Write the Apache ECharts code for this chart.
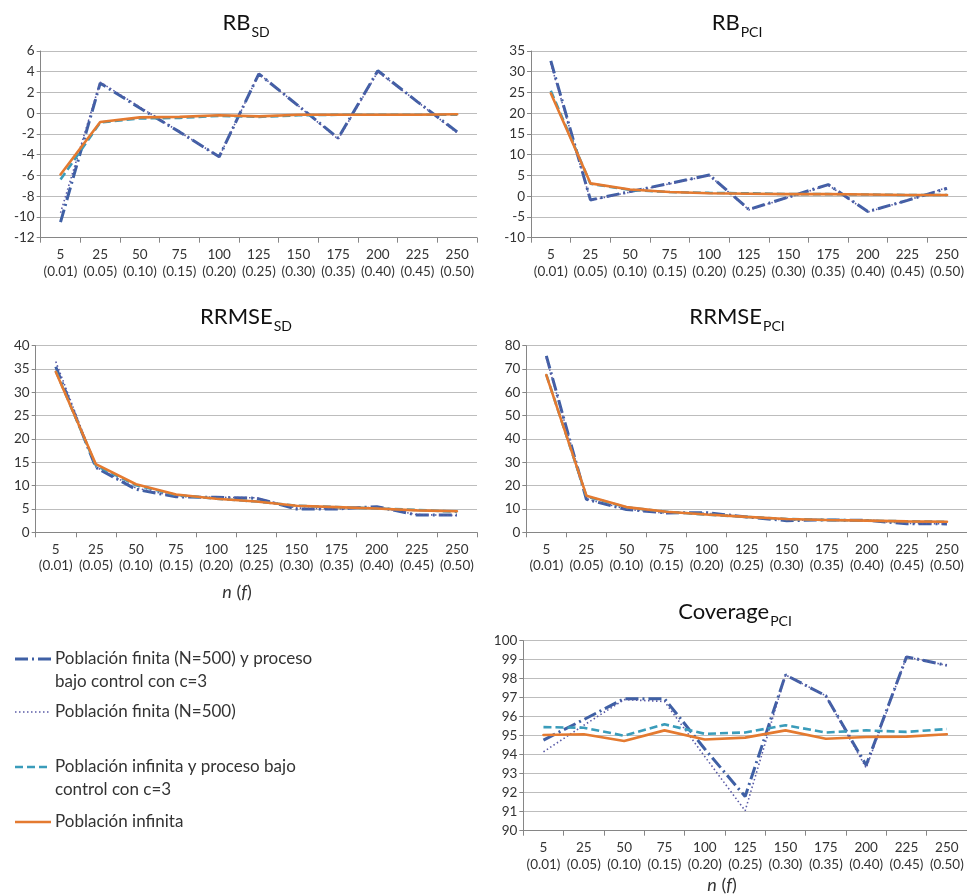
<!DOCTYPE html>
<html>
<head>
<meta charset="utf-8">
<script src="https://cdn.jsdelivr.net/npm/echarts@6/dist/echarts.min.js"></script>
<style>
  html, body { margin: 0; padding: 0; background: #fff; }
  #chart { width: 967px; height: 894px; }
</style>
</head>
<body>
<div id="chart"></div>
<script>
// Sample size n with sampling fraction f in brackets
const categories = ['5\n(0.01)', '25\n(0.05)', '50\n(0.10)', '75\n(0.15)', '100\n(0.20)', '125\n(0.25)',
  '150\n(0.30)', '175\n(0.35)', '200\n(0.40)', '225\n(0.45)', '250\n(0.50)'];

const seriesNames = [
  'Población finita (N=500) y proceso\nbajo control con c=3',
  'Población finita (N=500)',
  'Población infinita y proceso bajo\ncontrol con c=3',
  'Población infinita'
];

// RB_SD
const rbSdFiniteCtrl = [-10.5, 2.9, 0.5, -1.8, -4.2, 3.8, 0.7, -2.4, 4.1, 1.1, -1.8];
const rbSdFinite     = [-9.6, 3.0, 0.6, -1.8, -4.2, 3.8, 0.7, -2.5, 4.0, 1.1, -1.9];
const rbSdInfCtrl    = [-6.4, -0.9, -0.5, -0.45, -0.25, -0.35, -0.2, -0.15, -0.15, -0.15, -0.15];
const rbSdInf        = [-5.9, -0.85, -0.4, -0.35, -0.2, -0.3, -0.15, -0.15, -0.15, -0.15, -0.1];

// RB_PCI
const rbPciFiniteCtrl = [32.6, -0.9, 1.1, 3.1, 5.1, -3.2, -0.2, 2.8, -3.7, -1.0, 1.9];
const rbPciFinite     = [32.0, -1.0, 1.0, 3.0, 5.0, -3.3, -0.3, 2.7, -3.8, -1.0, 2.1];
const rbPciInfCtrl    = [25.4, 3.0, 1.5, 1.0, 0.8, 0.7, 0.5, 0.5, 0.4, 0.3, 0.3];
const rbPciInf        = [24.8, 3.1, 1.6, 1.0, 0.7, 0.6, 0.5, 0.5, 0.4, 0.3, 0.3];

// RRMSE_SD
const rrmseSdFiniteCtrl = [35.5, 13.9, 9.2, 7.6, 7.5, 7.3, 5.0, 5.0, 5.5, 3.7, 3.7];
const rrmseSdFinite     = [36.6, 14.0, 9.5, 7.7, 7.5, 7.4, 5.2, 5.0, 5.4, 3.8, 3.6];
const rrmseSdInfCtrl    = [34.6, 14.3, 10.1, 8.0, 7.2, 6.6, 5.7, 5.4, 5.1, 4.8, 4.4];
const rrmseSdInf        = [34.4, 14.6, 10.3, 8.1, 7.2, 6.6, 5.7, 5.4, 5.1, 4.7, 4.5];

// RRMSE_PCI
const rrmsePciFiniteCtrl = [75.6, 14.1, 9.8, 8.3, 8.4, 6.6, 5.0, 5.3, 5.1, 3.7, 3.6];
const rrmsePciFinite     = [74.8, 14.3, 9.9, 8.2, 8.2, 6.7, 5.2, 5.3, 5.1, 3.8, 3.6];
const rrmsePciInfCtrl    = [67.6, 15.4, 10.7, 8.8, 7.6, 6.6, 5.7, 5.3, 5.0, 4.7, 4.5];
const rrmsePciInf        = [67.4, 15.7, 10.8, 8.8, 7.6, 6.6, 5.7, 5.3, 5.0, 4.7, 4.5];

// Coverage_PCI
const covFiniteCtrl = [94.77, 95.85, 96.95, 96.95, 94.3, 91.8, 98.2, 97.1, 93.45, 99.15, 98.7];
const covFinite     = [94.15, 95.55, 96.9, 96.8, 93.9, 91.05, 98.2, 97.1, 93.3, 99.15, 98.7];
const covInfCtrl    = [95.45, 95.42, 95.0, 95.6, 95.1, 95.17, 95.55, 95.17, 95.28, 95.2, 95.35];
const covInf        = [95.04, 95.08, 94.72, 95.28, 94.8, 94.9, 95.28, 94.84, 94.93, 94.95, 95.08];

// Y-axis ranges per panel
const yMins = [-12, -10, 0, 0, 90];
const yMaxs = [6, 35, 40, 80, 100];
const yIntervals = [2, 5, 5, 10, 1];

const panelData = [
  [rbSdFiniteCtrl, rbSdFinite, rbSdInfCtrl, rbSdInf],
  [rbPciFiniteCtrl, rbPciFinite, rbPciInfCtrl, rbPciInf],
  [rrmseSdFiniteCtrl, rrmseSdFinite, rrmseSdInfCtrl, rrmseSdInf],
  [rrmsePciFiniteCtrl, rrmsePciFinite, rrmsePciInfCtrl, rrmsePciInf],
  [covFiniteCtrl, covFinite, covInfCtrl, covInf]
];

const FONT = 'Lato, "Open Sans", sans-serif';
const TEXT = '#333333';

const lineStyles = [
  { color: '#3f60a5', width: 3, type: [13, 4, 2, 4], cap: 'butt' },
  { color: '#5a5ba6', width: 1.6, type: [1.5, 2.5], cap: 'butt' },
  { color: '#3a9cba', width: 2.6, type: [8, 4], cap: 'butt' },
  { color: '#e47a30', width: 2.6, type: 'solid', cap: 'round' }
];

const grids = [
  { left: 40.7, top: 51, width: 436.3, height: 186.7 },
  { left: 531, top: 51, width: 436, height: 186.7 },
  { left: 35.7, top: 345.7, width: 441.3, height: 186.6 },
  { left: 526.3, top: 345.7, width: 440.7, height: 186.6 },
  { left: 523.3, top: 640.7, width: 443.7, height: 190 }
];

const titles = [
  { main: 'RB', sub: 'SD', x: 246, y: 8 },
  { main: 'RB', sub: 'PCI', x: 737, y: 8 },
  { main: 'RRMSE', sub: 'SD', x: 246, y: 302 },
  { main: 'RRMSE', sub: 'PCI', x: 737, y: 302 },
  { main: 'Coverage', sub: 'PCI', x: 735, y: 597 }
];

const xAxes = grids.map((g, i) => ({
  type: 'category',
  gridIndex: i,
  data: categories,
  boundaryGap: true,
  axisLine: { onZero: false, lineStyle: { color: '#868686', width: 1 } },
  axisTick: { show: true, length: 5, lineStyle: { color: '#868686' } },
  axisLabel: { interval: 0, margin: 9, color: TEXT, fontFamily: FONT, fontSize: 13.5, lineHeight: 16.5 },
  splitLine: { show: false }
}));

const yAxes = grids.map((g, i) => ({
  type: 'value',
  gridIndex: i,
  min: yMins[i],
  max: yMaxs[i],
  interval: yIntervals[i],
  axisLine: { show: true, lineStyle: { color: '#868686', width: 1 } },
  axisTick: { show: true, length: 4, lineStyle: { color: '#868686' } },
  axisLabel: { margin: 6, color: TEXT, fontFamily: FONT, fontSize: 13.5 },
  splitLine: { show: true, lineStyle: { color: '#bdbdbd', width: 1 } }
}));

const series = [];
panelData.forEach((group, gi) => {
  group.forEach((values, si) => {
    series.push({
      type: 'line',
      name: seriesNames[si],
      xAxisIndex: gi,
      yAxisIndex: gi,
      data: values,
      symbol: 'none',
      smooth: false,
      silent: true,
      lineStyle: lineStyles[si],
      z: 2 + si
    });
  });
});

// Legend key: a line sample per series, label aligned with its first text line
const legendRows = [659, 712, 767, 822];
const legendLineHeight = 22.5;
const legendGraphics = [];
seriesNames.forEach((name, i) => {
  const ls = lineStyles[i];
  const yc = legendRows[i];
  legendGraphics.push({
    type: 'line',
    shape: { x1: 15, y1: yc, x2: 51, y2: yc },
    style: {
      stroke: ls.color,
      lineWidth: ls.width,
      lineDash: Array.isArray(ls.type) ? ls.type : null,
      lineCap: 'butt'
    },
    silent: true
  });
  legendGraphics.push({
    type: 'text',
    x: 55,
    y: yc - legendLineHeight / 2,
    style: {
      text: name,
      font: '17px ' + FONT,
      fill: TEXT,
      lineHeight: legendLineHeight,
      align: 'left',
      verticalAlign: 'top'
    },
    silent: true
  });
});

const axisNameStyle = (x, y) => ({
  type: 'text', x: x, y: y,
  style: {
    text: '{i|n} ({i|f})', align: 'center', verticalAlign: 'middle',
    font: '18px ' + FONT, fill: TEXT,
    rich: { i: { fontStyle: 'italic', fontFamily: FONT, fontSize: 18, fill: TEXT } }
  },
  silent: true
});

const option = {
  backgroundColor: '#ffffff',
  animation: false,
  title: titles.map(t => ({
    text: '{m|' + t.main + '}{s|' + t.sub + '}',
    left: t.x,
    top: t.y,
    textAlign: 'center',
    padding: 0,
    textStyle: {
      fontWeight: 'normal',
      rich: {
        m: { fontFamily: FONT, fontSize: 22, fontWeight: 'normal', color: '#111', lineHeight: 26, verticalAlign: 'bottom' },
        s: { fontFamily: FONT, fontSize: 14, fontWeight: 'normal', color: '#111', lineHeight: 26, verticalAlign: 'bottom', padding: [0, 0, -5, 1] }
      }
    }
  })),
  grid: grids.map(g => Object.assign({ containLabel: false }, g)),
  xAxis: xAxes,
  yAxis: yAxes,
  series: series,
  graphic: legendGraphics.concat([axisNameStyle(237, 592), axisNameStyle(722, 885)])
};

const chart = echarts.init(document.getElementById('chart'), null, { renderer: 'canvas' });
chart.setOption(option);
</script>
</body>
</html>
